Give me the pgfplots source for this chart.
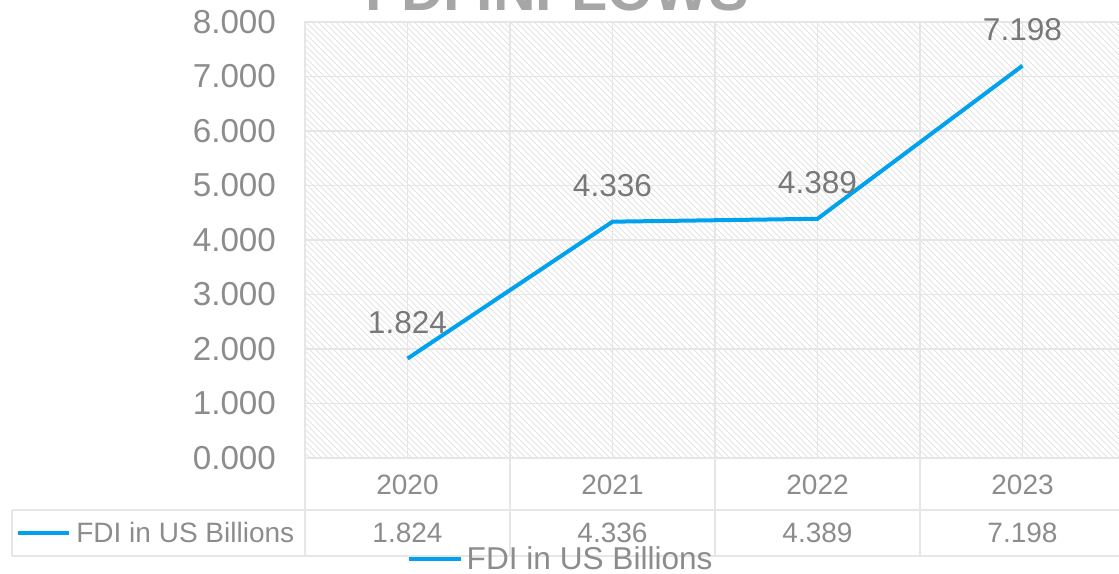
\documentclass[border=0pt]{standalone}
\usepackage{pgfplots}
\pgfplotsset{compat=1.18}
\usepackage{fontspec}
\setmainfont{Liberation Sans}
\usetikzlibrary{patterns}
\definecolor{fdiblue}{RGB}{0,162,240}
\definecolor{tickgray}{RGB}{140,140,140}
\definecolor{labgray}{RGB}{120,120,120}
\definecolor{gridgray}{RGB}{230,230,230}
\definecolor{titlegray}{RGB}{166,166,166}
\pgfplotstableread{
x y
0 1.824
1 4.336
2 4.389
3 7.198
}\fdidata
\begin{document}
\begin{tikzpicture}
\begin{axis}[
  scale only axis, width=410pt, height=218pt,
  at={(0,0)}, anchor=south west,
  xmin=-0.5, xmax=3.5, ymin=0, ymax=8,
  xtick={0,1,2,3}, minor xtick={-0.5,0.5,1.5,2.5,3.5},
  xticklabels={{2020\\1.824},{2021\\4.336},{2022\\4.389},{2023\\7.198}},
  ytick={0,1,...,8},
  grid=both,
  major grid style={gridgray, line width=0.6pt},
  minor grid style={gridgray, line width=0.6pt},
  axis line style={gridgray, line width=0.6pt},
  major tick length=0pt, minor tick length=0pt,
  tick style={draw=none},
  axis background/.style={pattern=north west lines, pattern color=black!11},
  yticklabel style={font=\fontsize{16.6}{18}\selectfont, text=tickgray, xshift=-11pt},
  xticklabel style={font=\fontsize{14}{24}\selectfont, text=tickgray, align=center, inner sep=0pt, anchor=north, yshift=-8.5pt},
  y tick label style={/pgf/number format/.cd, fixed, fixed zerofill, precision=3, assume math mode=true},
  clip=false,
  legend style={at={(0.313,-0.232)}, anchor=center, draw=none, fill=none,
    font=\fontsize{15.8}{18}\selectfont, text=tickgray, inner sep=0pt},
  legend image code/.code={\draw[#1] (0pt,0pt) -- (26pt,0pt);},
]
\addplot[fdiblue, line width=2pt,
  nodes near coords={\pgfmathprintnumber[fixed,fixed zerofill,precision=3,assume math mode=true]{\pgfplotspointmeta}},
  nodes near coords style={font=\fontsize{15.8}{18}\selectfont, text=labgray, anchor=center, yshift=18pt}]
  table[x=x, y=y] {\fdidata};
\addlegendentry{FDI in US Billions}
% data table lines
\draw[gridgray, line width=0.6pt] (rel axis cs:0,-0.1193) -- (rel axis cs:1,-0.1193);
\draw[gridgray, line width=0.6pt] (rel axis cs:-0.3573,-0.2248) -- (rel axis cs:1,-0.2248);
\draw[gridgray, line width=0.6pt] (rel axis cs:-0.3573,-0.1193) -- (rel axis cs:0,-0.1193);
\draw[gridgray, line width=0.6pt] (rel axis cs:-0.3573,-0.1193) -- (rel axis cs:-0.3573,-0.2248);
\draw[gridgray, line width=0.6pt] (rel axis cs:0,0) -- (rel axis cs:0,-0.2248);
\draw[gridgray, line width=0.6pt] (rel axis cs:0.25,0) -- (rel axis cs:0.25,-0.2248);
\draw[gridgray, line width=0.6pt] (rel axis cs:0.5,0) -- (rel axis cs:0.5,-0.2248);
\draw[gridgray, line width=0.6pt] (rel axis cs:0.75,0) -- (rel axis cs:0.75,-0.2248);
\draw[gridgray, line width=0.6pt] (rel axis cs:1,0) -- (rel axis cs:1,-0.2248);
\draw[fdiblue, line width=2pt] (rel axis cs:-0.3500,-0.1720) -- (rel axis cs:-0.2878,-0.1720);
\node[anchor=west, inner sep=0pt, font=\fontsize{14}{16}\selectfont, text=tickgray] at (rel axis cs:-0.2793,-0.1720) {FDI in US Billions};
\node[anchor=base, inner sep=0pt, font=\bfseries\fontsize{29.5}{30}\selectfont, text=titlegray] at (rel axis cs:0.3073,1.0275) {FDI INFLOWS};
\coordinate (bbsw) at (rel axis cs:-0.37195,-0.26606);
\coordinate (bbne) at (rel axis cs:0.99268,1.05046);
\end{axis}
\pgfresetboundingbox
\useasboundingbox (bbsw) rectangle (bbne);
\end{tikzpicture}
\end{document}
